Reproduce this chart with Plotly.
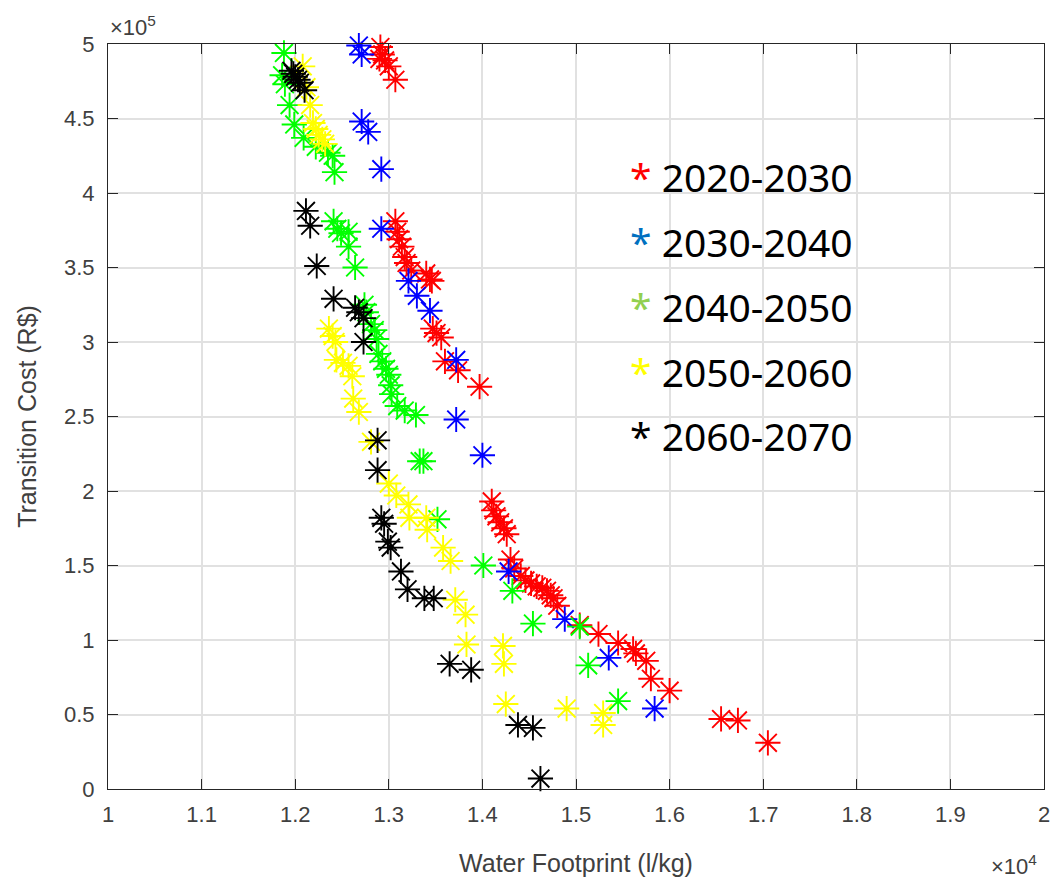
import plotly.graph_objects as go

# ---------------- data (Water Footprint l/kg, Transition Cost R$) ----------------
red_x = [12910, 12930, 12900, 12960, 13000, 13070,
         13070, 13090, 13110, 13140, 13170, 13190, 13240, 13400, 13440, 13460,
         13470, 13510, 13560, 13600, 13740, 13970,
         14100, 14120, 14150, 14190, 14230, 14260, 14300, 14340, 14410, 14460,
         14520, 14580, 14640, 14690, 14730, 14760, 14800, 15040, 15240, 15450,
         15610, 15640, 15750, 15800, 16000, 16550, 16730, 17050]
red_y = [498000, 493000, 490000, 489000, 485000, 476000,
         381000, 374000, 369000, 364000, 357000, 353000, 348000, 346000, 342000, 341000,
         309000, 306000, 303000, 287000, 281000, 270000,
         193000, 187000, 183000, 179000, 175000, 171000, 154000, 148000, 143000, 140000,
         138000, 136000, 135000, 133000, 130000, 128000, 123000, 110000, 104000, 98000,
         94000, 91000, 86000, 74000, 66000, 47000, 46000, 31000]

blue_x = [12680, 12710, 12710, 12780, 12920, 12920, 13210, 13300, 13440, 13720,
          13720, 14000, 14280, 14880, 15350, 15840]
blue_y = [499000, 493000, 448000, 441000, 416000, 376000, 341000, 331000, 321000, 288000,
          248000, 224000, 146000, 114000, 88000, 54000]

green_x = [11880, 11860, 11890, 11940, 11990, 12090, 12220, 12350, 12400, 12420,
           12410, 12450, 12490, 12570, 12570, 12640,
           12740, 12760, 12810, 12850, 12870, 12890, 12930, 12970, 13000, 13020,
           13030, 13090, 13170, 13290,
           13330, 13370, 13520, 14010, 14320, 14540, 15040, 15130, 15450]
green_y = [494000, 479000, 473000, 459000, 446000, 437000, 431000, 427000, 425000, 414000,
           381000, 376000, 373000, 374000, 364000, 350000,
           325000, 320000, 312000, 308000, 302000, 292000, 287000, 282000, 278000, 271000,
           265000, 257000, 254000, 251000,
           220000, 220000, 181000, 150000, 133000, 111000, 109000, 83000, 59000]

yellow_x = [12080, 12120, 12160, 12190, 12220, 12250, 12290, 12320,
            12360, 12400, 12430, 12440, 12510, 12570, 12610, 12620, 12680,
            12810, 13000, 13080, 13210, 13220, 13400, 13410, 13580, 13660, 13710,
            13820, 13830, 14220, 14230, 14250, 14900, 15290, 15290]
yellow_y = [485000, 471000, 459000, 447000, 443000, 439000, 436000, 433000,
            309000, 304000, 300000, 288000, 286000, 284000, 277000, 262000, 253000,
            233000, 205000, 197000, 191000, 182000, 182000, 174000, 162000, 153000, 127000,
            117000, 97000, 96000, 84000, 57000, 54000, 51000, 43000]

black_x = [11960, 11980, 12000, 12030, 12050, 12100,
           12115, 12160, 12230, 12410, 12640, 12680, 12730, 12730,
           12880, 12880, 12920, 12950, 12990, 13020, 13130, 13200, 13380, 13480,
           13650, 13880, 14380, 14540, 14620]
black_y = [482000, 480000, 478000, 476000, 474000, 469000,
           388000, 378000, 351000, 329000, 323000, 320000, 316000, 300000,
           234000, 214000, 182000, 178000, 166000, 162000, 146000, 134000, 128000, 128000,
           84000, 80000, 43000, 41000, 7000]

series_names = ["2020-2030", "2030-2040", "2040-2050", "2050-2060", "2060-2070"]
series_colors = ["#FF0000", "#0000FF", "#00FF00", "#FFFF00", "#000000"]
legend_star_colors = ["#FF0000", "#0070C0", "#92D050", "#FFFF00", "#000000"]
series_x = [red_x, blue_x, green_x, yellow_x, black_x]
series_y = [red_y, blue_y, green_y, yellow_y, black_y]

x_ticks = [10000, 11000, 12000, 13000, 14000, 15000, 16000, 17000, 18000, 19000, 20000]
x_tick_labels = ["1", "1.1", "1.2", "1.3", "1.4", "1.5", "1.6", "1.7", "1.8", "1.9", "2"]
y_ticks = [0, 50000, 100000, 150000, 200000, 250000, 300000, 350000, 400000, 450000, 500000]
y_tick_labels = ["0", "0.5", "1", "1.5", "2", "2.5", "3", "3.5", "4", "4.5", "5"]

# ---------------- figure ----------------
fig = go.Figure()
for name, col, xs, ys in zip(series_names, series_colors, series_x, series_y):
    fig.add_trace(go.Scatter(
        x=xs, y=ys, mode="markers", name=name, cliponaxis=False,
        marker=dict(symbol="asterisk-open", size=21, color=col,
                    line=dict(color=col, width=1.9)),
    ))

axis_font = "Liberation Sans, Arial, sans-serif"
txt_col = "#262626"
lab_col = "#404040"

common = dict(showline=True, linecolor=txt_col, linewidth=1, mirror="ticks",
              ticks="inside", ticklen=10, tickcolor=txt_col, tickwidth=1,
              showgrid=True, gridcolor="#e1e1e1", gridwidth=1.5, zeroline=False,
              automargin=False,
              tickfont=dict(family=axis_font, size=22, color=lab_col))

fig.update_xaxes(range=[10000, 20000], tickvals=x_ticks, ticktext=x_tick_labels,
                 ticklabelstandoff=6,
                 title=dict(text="Water Footprint (l/kg)", standoff=28,
                            font=dict(family=axis_font, size=25, color=lab_col)),
                 **common)
fig.update_yaxes(range=[0, 500000], tickvals=y_ticks, ticktext=y_tick_labels,
                 ticklabelstandoff=8,
                 title=dict(text="Transition Cost (R$)", standoff=20,
                            font=dict(family=axis_font, size=25, color=lab_col)),
                 **common)

annotations = [
    dict(text="×10<sup>5</sup>", xref="paper", yref="paper", x=0, y=1.0,
         xanchor="left", yanchor="bottom", showarrow=False, yshift=2,
         font=dict(family=axis_font, size=22, color=lab_col)),
    dict(text="×10<sup>4</sup>", xref="paper", yref="paper", x=0.995, y=0,
         xanchor="right", yanchor="top", showarrow=False, yshift=-60,
         font=dict(family=axis_font, size=22, color=lab_col)),
]
row_y = [0.822, 0.735, 0.648, 0.561, 0.474]
for name, scol, ry in zip(series_names, legend_star_colors, row_y):
    annotations.append(dict(
        text=f'<span style="color:{scol}">*</span> {name}',
        xref="paper", yref="paper", x=0.556, y=ry, xanchor="left", yanchor="middle",
        showarrow=False, font=dict(family="Noto Sans, Open Sans", size=39, color="#000000")))

fig.update_layout(
    width=1054, height=884,
    margin=dict(l=108, r=10, t=44, b=95, autoexpand=False),
    paper_bgcolor="white", plot_bgcolor="white",
    showlegend=False,
    annotations=annotations,
)

fig.write_html(
    "out.html",
    config={"displayModeBar": False},
    post_script="document.body.style.margin='0';document.body.style.overflow='hidden';",
)
